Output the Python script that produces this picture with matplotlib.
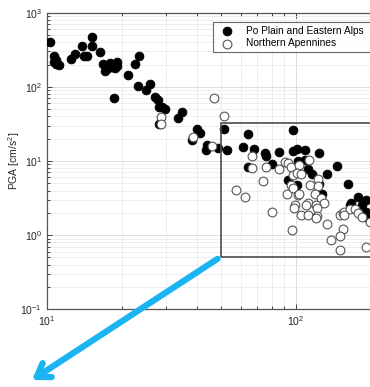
import matplotlib
matplotlib.use("Agg")
import matplotlib.pyplot as plt
from matplotlib.patches import Rectangle
from matplotlib.ticker import LogLocator, NullFormatter

plt.rcParams['font.family'] = ['Liberation Sans', 'DejaVu Sans']
plt.rcParams['mathtext.default'] = 'regular'

# Po Plain and Eastern Alps (filled)
po_dist = [10.3, 10.7, 10.9, 10.7, 10.9, 11.2, 12.5, 12.9, 13.8, 15.1, 15.1, 14.1, 14.5,
           16.3, 16.8, 17.1, 17.9, 17.6, 18.2, 19.1, 19.2, 18.8, 18.6, 21.2, 22.6, 23.5,
           23.3, 25.1, 25.9, 27.2, 28.0, 28.2, 28.9, 29.8, 34.8, 33.7, 28.2, 40.2, 41.1,
           38.1, 43.8, 43.5, 48.7, 52.7, 51.5, 61.1, 64.3, 67.8, 75.1, 75.8, 64.3, 80.6,
           85.7, 97.5, 97.5, 100.7, 109, 124, 102, 109, 112, 116, 133, 147, 162, 93.1,
           100.7, 124, 128, 167, 178, 192, 165, 184, 192, 195]
po_pga = [399, 261, 231, 215, 202, 197, 238, 277, 356, 475, 356, 263, 263,
          293, 202, 164, 208, 178, 187, 219, 191, 178, 70.2, 145, 202, 261,
          104, 90.8, 109, 73.8, 66.6, 53.1, 54.1, 49.9, 46.3, 37.8, 31.6, 26.8, 24.1,
          19.2, 16.5, 14.1, 14.9, 14.1, 27.4, 15.6, 23.2, 14.4, 13.0, 11.5, 8.41, 9.14,
          13.4, 26.2, 13.8, 14.4, 14.1, 12.7, 10.1, 10.3, 7.74, 6.70, 6.70, 8.59, 4.86, 5.48,
          4.76, 4.91, 3.61, 2.70, 3.31, 2.99, 2.56, 2.56, 2.03, 1.69]

# Northern Apennines (open)
na_dist = [28.8, 28.7, 38.7, 47.1, 51.5, 46.1, 66.8, 66.4, 76.2, 85.7, 90.3, 93.1, 96.1,
           73.9, 97.5, 96.1, 57.4, 62.3, 79.9, 91.8, 97.5, 99.1, 98.2, 96.8, 102, 113,
           103, 100.7, 123, 114, 123, 103, 119, 126, 112, 110, 130, 121, 122, 105, 112,
           122, 121, 133, 155, 150, 138, 150, 192, 150, 155, 157, 165, 173, 178, 184,
           157, 105, 198]
na_pga = [39.3, 31.1, 20.8, 69.8, 40.6, 15.7, 11.7, 8.0, 8.24, 7.74, 9.82, 9.33, 8.24,
          5.35, 6.50, 4.69, 4.02, 3.31, 2.03, 3.55, 4.30, 2.56, 2.31, 1.18, 3.49, 10.3,
          8.85, 6.98, 5.69, 4.76, 4.61, 3.61, 3.61, 3.15, 2.70, 2.56, 2.70, 2.56, 2.31, 1.88, 1.88,
          1.82, 1.69, 1.41, 1.20, 0.98, 0.85, 0.63, 0.70, 1.88, 1.98, 2.08, 2.23, 2.26, 1.98, 1.78,
          1.85, 6.70, 1.51]

# zoom box (distance, PGA)
box_x = [50, 300]
box_y = [0.5, 33]

fig = plt.figure(figsize=(3.70, 3.87), dpi=100)
ax = fig.add_axes([47 / 370, 77.7 / 387, 398 / 370, 296.6 / 387])

ax.set_xscale('log')
ax.set_yscale('log')
ax.set_xlim(10, 10 ** 2.6)
ax.set_ylim(0.1, 1000)

ax.grid(True, which='major', color='#d8d8d8', linewidth=0.6)
ax.grid(True, which='minor', color='#e8e8e8', linewidth=0.5)
ax.set_axisbelow(True)

ax.scatter(po_dist, po_pga, s=40, facecolor='black', edgecolor='black', linewidth=0.6,
           label='Po Plain and Eastern Alps', zorder=3)
ax.scatter(na_dist, na_pga, s=40, facecolor='white', edgecolor='#555555', linewidth=0.8,
           label='Northern Apennines', zorder=4)

ax.add_patch(Rectangle((box_x[0], box_y[0]), box_x[1] - box_x[0], box_y[1] - box_y[0],
                       fill=False, edgecolor='#4d4d4d', linewidth=1.2, zorder=5))

ax.xaxis.set_major_locator(LogLocator(base=10, numticks=10))
ax.yaxis.set_major_locator(LogLocator(base=10, numticks=10))
ax.xaxis.set_minor_locator(LogLocator(base=10, subs=range(2, 10), numticks=20))
ax.yaxis.set_minor_locator(LogLocator(base=10, subs=range(2, 10), numticks=20))
ax.xaxis.set_minor_formatter(NullFormatter())
ax.yaxis.set_minor_formatter(NullFormatter())
ax.tick_params(which='both', direction='in', top=True, right=True, labelsize=7.5,
               colors='#262626', width=0.6)
ax.tick_params(which='major', length=3.5)
ax.tick_params(which='minor', length=2)
for sp in ax.spines.values():
    sp.set_color('#555555')
    sp.set_linewidth(0.9)

ax.set_ylabel('PGA [cm/s$^2$]', fontsize=7.5, color='#262626')
ax.yaxis.set_label_coords(-0.062, 0.5)

leg = ax.legend(loc='upper left', bbox_to_anchor=(0.405, 0.985, 0.55, 0.0), mode='expand',
                fontsize=7.3, frameon=True, fancybox=False, edgecolor='#444444',
                borderpad=0.35, labelspacing=0.25, handletextpad=0.9, scatterpoints=1)
leg.get_frame().set_linewidth(0.8)

# blue arrow pointing out of the zoom box
ax.annotate('', xy=(32, 7), xycoords='figure pixels',
            xytext=(box_x[0] * 0.97, box_y[0] * 0.96), textcoords='data',
            arrowprops=dict(arrowstyle='->,head_length=0.9,head_width=0.6',
                            color='#1ab4f2', linewidth=4.5, shrinkA=0, shrinkB=0),
            annotation_clip=False, zorder=6)

fig.savefig('out.png', dpi=100)
